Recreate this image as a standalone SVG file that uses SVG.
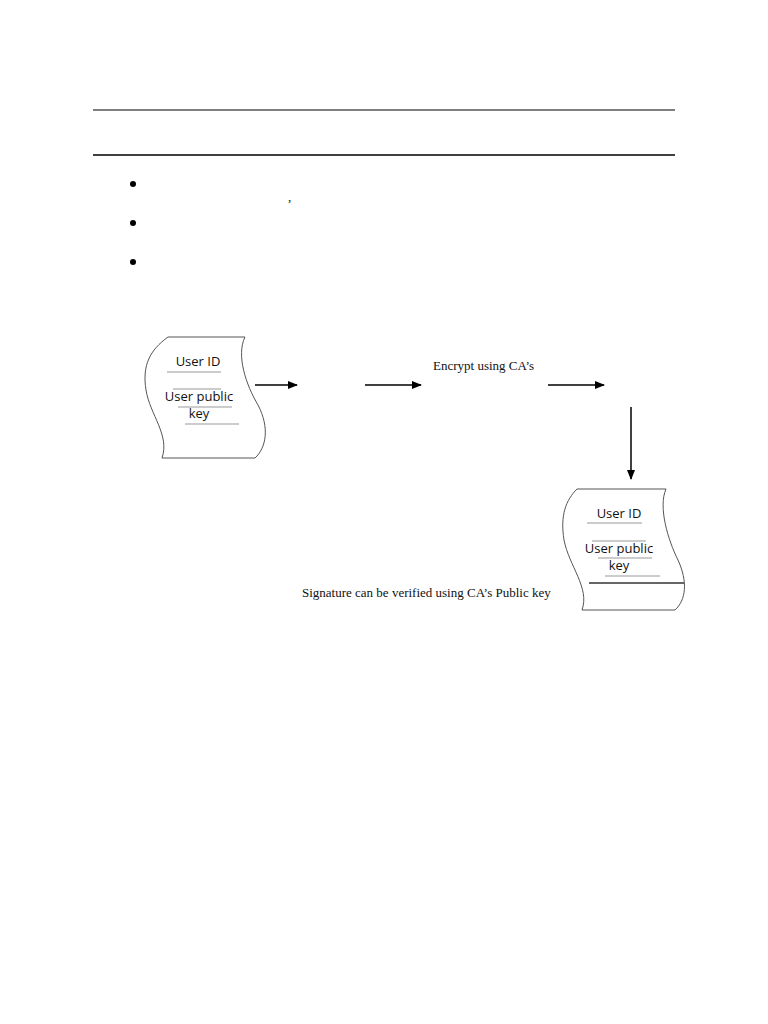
<svg xmlns="http://www.w3.org/2000/svg" width="768" height="1024" viewBox="0 0 768 1024">
<style>
.doc{fill:#fff;stroke:#555;stroke-width:1}
.sep{stroke:#999;stroke-width:1.2}
.lbl{font-family:"Open Sans","Noto Sans",sans-serif;font-size:13px;fill:#111;text-anchor:middle}
.serif{font-family:"Liberation Serif",serif;font-size:13px;fill:#111}
.conn{stroke:#000;stroke-width:1.5;fill:none;marker-end:url(#ah)}
</style>
<defs>
<marker id="ah" markerWidth="10" markerHeight="8" refX="9" refY="4" orient="auto" markerUnits="userSpaceOnUse">
<path d="M0,0 L10,4 L0,8 Z" fill="#000"/>
</marker>
</defs>
<rect width="768" height="1024" fill="#fff"/>
<line x1="93" y1="110" x2="675" y2="110" stroke="#555" stroke-width="1.5"/>
<line x1="93" y1="155" x2="675" y2="155" stroke="#000" stroke-width="1.5"/>
<circle cx="133" cy="184" r="3" fill="#000"/>
<circle cx="133" cy="223" r="3" fill="#000"/>
<circle cx="133" cy="262" r="3" fill="#000"/>
<text x="288" y="201" class="serif" font-size="9">,</text>
<g id="doc1">
<path class="doc" d="M168,337 L245,337 C236,355 246,385 258,405 C270,428 266,448 255,458 L162,458 C170,435 150,415 146,390 C142,365 150,350 168,337 Z"/>
<text x="198" y="366" class="lbl">User ID</text>
<line x1="167" y1="372" x2="221" y2="372" class="sep"/>
<line x1="173" y1="389" x2="221" y2="389" class="sep"/>
<text x="199" y="401" class="lbl">User public</text>
<line x1="178" y1="407" x2="232" y2="407" class="sep"/>
<text x="199" y="418" class="lbl">key</text>
<line x1="185" y1="424" x2="239" y2="424" class="sep"/>
</g>
<g id="doc2">
<path class="doc" d="M577,489 L666,489 C658,507 668,540 678,560 C688,582 686,600 675,610 L582,610 C590,588 569,566 564,540 C560,515 566,500 577,489 Z"/>
<text x="619" y="518" class="lbl">User ID</text>
<line x1="587" y1="523" x2="642" y2="523" class="sep"/>
<line x1="592" y1="541" x2="646" y2="541" class="sep"/>
<text x="619" y="553" class="lbl">User public</text>
<line x1="598" y1="558" x2="652" y2="558" class="sep"/>
<text x="619" y="570" class="lbl">key</text>
<line x1="605" y1="576" x2="660" y2="576" class="sep"/>
<line x1="589" y1="583" x2="684" y2="583" stroke="#333" stroke-width="1.5"/>
</g>
<g id="connectors">
<line x1="255" y1="385" x2="297" y2="385" class="conn"/>
<line x1="365" y1="385" x2="421" y2="385" class="conn"/>
<line x1="548" y1="385" x2="604" y2="385" class="conn"/>
<line x1="631" y1="407" x2="631" y2="479" class="conn"/>
</g>
<text x="433" y="370" class="serif">Encrypt using CA’s</text>
<text x="302" y="597" class="serif">Signature can be verified using CA’s Public key</text>
</svg>
